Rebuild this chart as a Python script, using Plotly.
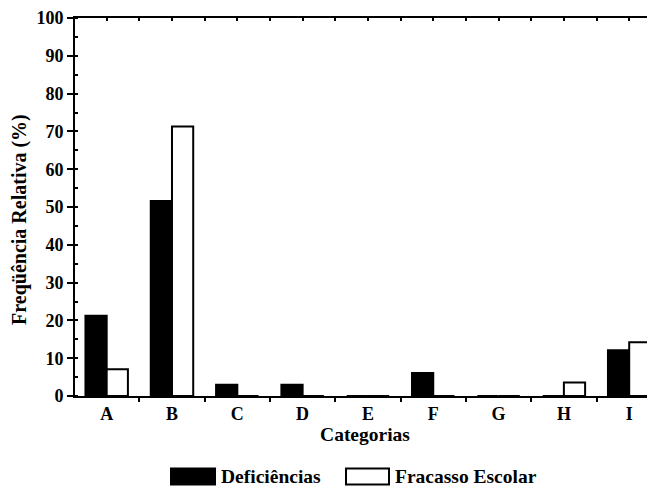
import plotly.graph_objects as go

categories = ["A", "B", "C", "D", "E", "F", "G", "H", "I"]
deficiencias = [21.2, 51.6, 3.0, 3.0, 0, 6.1, 0, 0, 12.1]
fracasso = [7.1, 71.3, 0, 0, 0, 0, 0, 3.6, 14.2]
series_names = ["Deficiências", "Fracasso Escolar"]
y_ticks = [0, 10, 20, 30, 40, 50, 60, 70, 80, 90, 100]
x_title = "Categorias"
y_title = "Freqüência Relativa (%)"

FONT = "Liberation Serif"
OFF = 8  # page body margin
W, H = 655 - OFF, 489 - OFF
L, R, T, B = 75 - OFF, 0, 16 - OFF, 489 - 396

PW = W - L - R
PH = H - T - B


def px(xp):  # page x -> paper x
    return (xp - OFF - L) / PW


def py(yp):  # page y -> paper y
    return (H - B - (yp - OFF)) / PH


fig = go.Figure()
fig.add_trace(go.Bar(x=categories, y=deficiencias, name=series_names[0],
                     marker=dict(color="black", line=dict(color="black", width=2)),
                     showlegend=False))
fig.add_trace(go.Bar(x=categories, y=fracasso, name=series_names[1],
                     marker=dict(color="white", line=dict(color="black", width=2)),
                     showlegend=False))
fig.add_trace(go.Scatter(x=[0], y=[0], xaxis="x2", mode="markers",
                         marker=dict(opacity=0), showlegend=False, hoverinfo="skip"))

xr = [-0.485, 8.395]
fig.update_layout(
    width=W, height=H,
    margin=dict(l=L, r=R, t=T, b=B, pad=0),
    paper_bgcolor="white", plot_bgcolor="white",
    barmode="group", bargap=0.35, bargroupgap=0,
    font=dict(family=FONT, size=18, color="black"),
    xaxis=dict(
        type="category", range=xr, tickson="boundaries",
        ticks="outside", ticklen=4, tickwidth=2, tickcolor="black",
        showline=True, linecolor="black", linewidth=2,
        showgrid=False, zeroline=False, ticklabeloverflow="allow",
        tickfont=dict(family=FONT, size=18, color="black", weight="bold"),
        title=dict(text="<b>" + x_title + "</b>", standoff=2,
                   font=dict(family=FONT, size=19.5, color="black")),
    ),
    xaxis2=dict(
        overlaying="x", side="top", range=xr, anchor="y",
        tickvals=[i * 0.5 - 0.5 for i in range(19)],
        ticks="inside", ticklen=3, tickwidth=2, tickcolor="black",
        showticklabels=False, showline=True, linecolor="black", linewidth=2,
        showgrid=False, zeroline=False,
    ),
    yaxis=dict(
        range=[0, 100], tickvals=y_ticks,
        ticks="outside", ticklen=6, tickwidth=2, tickcolor="black",
        minor=dict(ticks="inside", ticklen=3, tickwidth=2, tickcolor="black", dtick=5),
        showline=True, linecolor="black", linewidth=2,
        showgrid=False, zeroline=False, ticklabeloverflow="allow",
        tickfont=dict(family=FONT, size=18, color="black", weight="bold"),
    ),
)

# y-axis title as rotated annotation (placed as in the reference)
fig.add_annotation(xref="paper", yref="paper", x=px(20), y=py(219),
                   xanchor="center", yanchor="middle", textangle=-90,
                   text="<b>" + y_title + "</b>", showarrow=False,
                   font=dict(family=FONT, size=20, color="black"))

# custom legend (swatches + labels)
for x0, x1, fill in [(171, 215, "black"), (346, 389, "white")]:
    fig.add_shape(type="rect", xref="paper", yref="paper",
                  x0=px(x0), x1=px(x1), y0=py(469), y1=py(485),
                  fillcolor=fill, line=dict(color="black", width=2))
for xt, name in [(219, series_names[0]), (393, series_names[1])]:
    fig.add_annotation(xref="paper", yref="paper", x=px(xt), y=py(477),
                       xanchor="left", yanchor="middle",
                       text="<b>" + name + "</b>", showarrow=False,
                       font=dict(family=FONT, size=19.5, color="black"))

fig.write_html("out.html")
